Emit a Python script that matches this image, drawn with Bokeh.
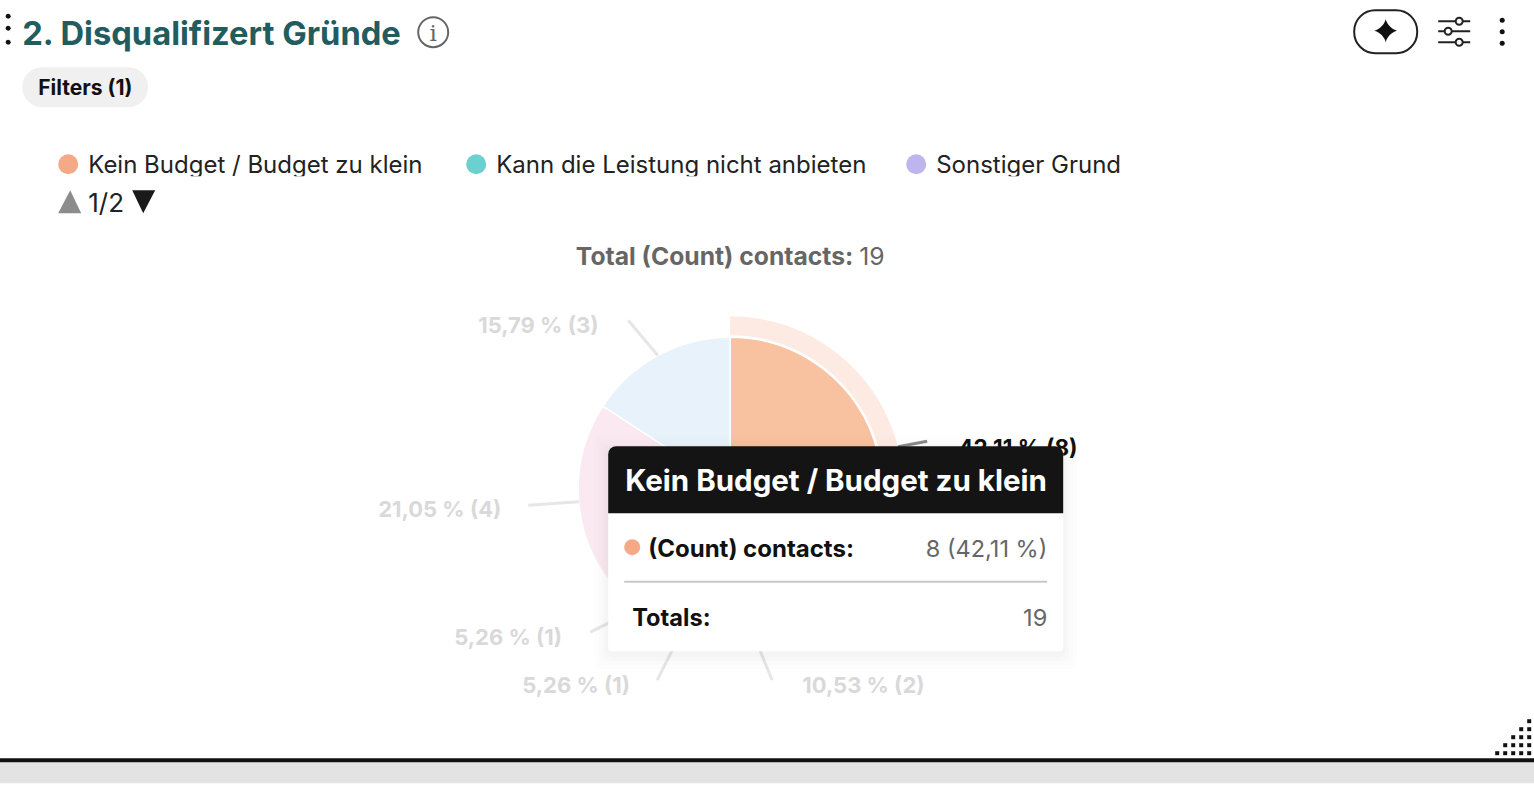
import numpy as np
from bokeh.core.properties import value
from bokeh.embed import file_html
from bokeh.models import Range1d
from bokeh.plotting import figure
from bokeh.resources import INLINE

FONT = "Inter"

title = "2. Disqualifizert Gründe"
filter_label = "Filters (1)"
legend_labels = ["Kein Budget / Budget zu klein", "Kann die Leistung nicht anbieten", "Sonstiger Grund"]
legend_colors = ["#f5a987", "#6ccfd0", "#beb4ee"]
legend_page = "1/2"

# slices, clockwise from 12 o'clock
slice_counts = [8, 2, 1, 1, 4, 3]
slice_percents = ["42,11 %", "10,53 %", "5,26 %", "5,26 %", "21,05 %", "15,79 %"]
slice_colors = ["#f8c1a0", "#d6f2f2", "#ece8fa", "#e8f5f0", "#fbe9f1", "#e7f2fa"]
total_count = 19

tooltip_title = "Kein Budget / Budget zu klein"
tooltip_row = "(Count) contacts:"
tooltip_value = "8 (42,11 %)"

# layout, in page pixels
cx, cy = 730, 489
radius = 152
label_x = [958, 802, 522, 454, 378, 478]
label_y = [447, 685, 685, 637, 509, 325]
leader_x = [927, 772, 657, 590, 528, 628]
leader_y = [441, 680, 680, 632, 505, 320]

p = figure(
    width=1535,
    height=795,
    x_range=Range1d(-0.7, 1534.3),
    y_range=Range1d(794.3, -0.7),
    output_backend="svg",
    toolbar_location=None,
    min_border=0,
    x_axis_location=None,
    y_axis_location=None,
    styles={"position": "absolute", "left": "-1px", "top": "-1px"},
)
p.grid.visible = False
p.outline_line_color = None


def label(x, y, s, size, color="#111111", bold=False, align="left"):
    p.text(
        [x],
        [y],
        text=[s],
        text_font=value(FONT),
        text_font_size=f"{size}px",
        text_font_style="bold" if bold else "normal",
        text_color=color,
        text_align=align,
        text_baseline="middle",
    )


def dots(x, y, r, color="#111111"):
    p.circle(x, y, radius=r, fill_color=color, line_color=None)


# header
dots([8, 8, 8], [16, 28, 42], 2.5)
label(22, 33, title, 32.7, "#215c5f", bold=True)
p.circle([433], [32], radius=15, fill_color=None, line_color="#666666", line_width=2)
p.text(
    [433], [33], text=["i"], text_font=value("DejaVu Serif"), text_font_size="23px",
    text_color="#666666", text_align="center", text_baseline="middle",
)
p.quad(left=[22], right=[148], top=[67], bottom=[107], fill_color="#f0f0f0", line_color=None, border_radius=20)
label(38, 87, filter_label, 21, bold=True)

# top right icons
p.quad(left=[1354], right=[1417], top=[10], bottom=[53], fill_color=None, line_color="#222222", line_width=2, border_radius=21)
t = np.linspace(0, 2 * np.pi, 80)
p.patch(
    1385.5 + 12 * np.sign(np.cos(t)) * np.abs(np.cos(t)) ** 3,
    30.5 + 12 * np.sign(np.sin(t)) * np.abs(np.sin(t)) ** 3,
    fill_color="#111111",
    line_color=None,
)
for sy, sx in [(21, 1459), (31, 1448), (42, 1459)]:
    p.line([1438, 1470], [sy, sy], line_color="#222222", line_width=2)
    p.circle([sx], [sy], radius=3.5, fill_color="white", line_color="#222222", line_width=2)
dots([1502, 1502, 1502], [20, 31.5, 43], 2.5)

# legend
for x, name, color in zip([68, 476, 916], legend_labels, legend_colors):
    dots([x], [164], 10, color)
    label(x + 20, 164, name, 24, "#222222")
# the legend row clips its descenders
p.quad(left=[80], right=[1130], top=[176], bottom=[183], fill_color="white", line_color=None)
p.patch([58, 81, 70], [213, 213, 190], fill_color="#8c8c8c", line_color=None)
p.patch([132, 155, 143], [190, 190, 213], fill_color="#1a1a1a", line_color=None)
label(88, 202, legend_page, 26, "#222222")

label(853, 256, "Total (Count) contacts:", 24.7, "#666666", bold=True, align="right")
label(859, 256, str(total_count), 24.7, "#666666")

# pie
fractions = np.array(slice_counts) / total_count
edges = np.concatenate([[0], np.cumsum(fractions)])
start = np.pi / 2 - 2 * np.pi * edges[:-1]
end = np.pi / 2 - 2 * np.pi * edges[1:]
mid = (start + end) / 2

p.annular_wedge(
    [cx], [cy], inner_radius=154, outer_radius=173, start_angle=start[0], end_angle=end[0],
    direction="clock", fill_color="#fdebe3", line_color=None,
)
p.wedge(
    [cx] * len(start), [cy] * len(start), radius=radius, start_angle=start, end_angle=end,
    direction="clock", fill_color=slice_colors, line_color="white", line_width=1.5,
)
for i in range(len(slice_counts)):
    hovered = i == 0
    r0 = 173 if hovered else radius
    p.line(
        [cx + r0 * np.cos(mid[i]), leader_x[i]],
        [cy - r0 * np.sin(mid[i]), leader_y[i]],
        line_color="#8c8c8c" if hovered else "#e6e6e6",
        line_width=3,
    )
    label(
        label_x[i], label_y[i], f"{slice_percents[i]} ({slice_counts[i]})", 22.5 if hovered else 22,
        "#111111" if hovered else "#d9d9d9", bold=True,
    )

# tooltip
for grow, alpha in [(14, 0.006), (10, 0.008), (6, 0.01), (3, 0.012)]:
    p.quad(
        left=[608 - grow], right=[1063 + grow], top=[446 - grow + 4], bottom=[651 + grow + 4],
        fill_color="#000000", fill_alpha=alpha, line_color=None, border_radius=8,
    )
p.quad(left=[608], right=[1063], top=[450], bottom=[651], fill_color="white", line_color=None, border_radius=4)
p.quad(left=[608], right=[1063], top=[446], bottom=[513], fill_color="#141414", line_color=None, border_radius=(8, 8, 0, 0))
label(625, 480, tooltip_title, 29.5, "white", bold=True)
dots([632], [547], 8, legend_colors[0])
label(648, 548, tooltip_row, 24, "#111111", bold=True)
label(1047, 548, tooltip_value, 23.5, "#666666", align="right")
p.line([624, 1047], [581.5, 581.5], line_color="#c8c8c8", line_width=2)
label(632, 617, "Totals:", 23.6, "#111111", bold=True)
label(1047, 617, str(total_count), 23.5, "#666666", align="right")

# bottom edge and resize handle
p.quad(left=[-2], right=[1536], top=[762], bottom=[783], fill_color="#e3e3e3", line_color=None)
p.quad(left=[-2], right=[1536], top=[758], bottom=[762], fill_color="#111111", line_color=None)
hx, hy = [], []
for row in range(5):
    for col in range(row + 1):
        hx.append(1529 - 8 * col)
        hy.append(721 + 8 * row)
p.rect(hx, hy, width=4, height=4, fill_color="#111111", line_color=None)

open("out.html", "w").write(file_html(p, INLINE))
